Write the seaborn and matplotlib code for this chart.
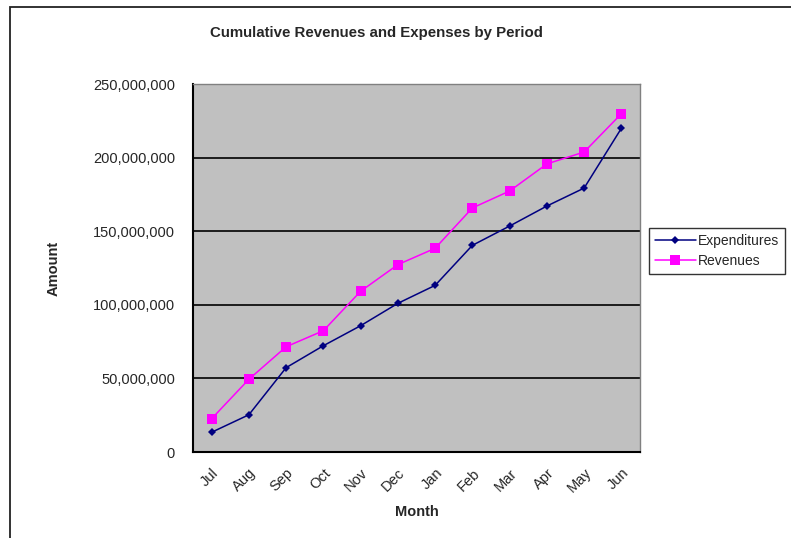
import numpy as np
import pandas as pd
import matplotlib
matplotlib.use("Agg")
import matplotlib.pyplot as plt
from matplotlib.ticker import FuncFormatter, MultipleLocator
import seaborn as sns

sns.set_style("white")
plt.rcParams["font.family"] = ["Liberation Sans", "DejaVu Sans"]

# data (millions)
months = ["Jul", "Aug", "Sep", "Oct", "Nov", "Dec", "Jan", "Feb", "Mar", "Apr", "May", "Jun"]
expenditures = [13.4, 25.3, 57.3, 72.2, 85.8, 101.0, 113.2, 140.4, 153.5, 167.1, 179.3, 219.9]
revenues = [22.6, 49.4, 71.5, 82.4, 109.2, 127.3, 138.4, 165.8, 177.3, 195.7, 203.8, 229.8]
series = ["Expenditures", "Revenues"]
colors = {"Expenditures": "#000080", "Revenues": "#ff00ff"}
markers = {"Expenditures": "D", "Revenues": "s"}
msizes = {"Expenditures": 4, "Revenues": 6.5}

df = pd.DataFrame({
    "pos": list(range(len(months))) * 2,
    "Amount": np.array(expenditures + revenues) * 1e6,
    "Series": ["Expenditures"] * len(months) + ["Revenues"] * len(months),
})

fig = plt.figure(figsize=(7.91, 5.38), dpi=100)
ax = fig.add_axes([193 / 791, 1 - 452 / 538, (640 - 193) / 791, (452 - 84) / 538])
ax.set_facecolor("#c0c0c0")

# outer chart frame (runs off right and bottom edges)
fig.patches.append(plt.Rectangle((10 / 791, -0.05), 1.1, 1 - 7 / 538 + 0.05,
                                 transform=fig.transFigure, fill=False,
                                 edgecolor="#222222", linewidth=1.3))

for v in [50e6, 100e6, 150e6, 200e6]:
    ax.axhline(v, color="black", linewidth=1.2, zorder=1)

n0 = len(ax.lines)
sns.lineplot(data=df, x="pos", y="Amount", hue="Series", style="Series",
             hue_order=series, style_order=series,
             palette=colors, markers=markers, dashes=False,
             linewidth=1.1, markeredgewidth=0, ax=ax, legend=False)
lines = ax.lines[n0:]
for ln, name in zip(lines, series):
    ln.set_markersize(msizes[name])
    ln.set_label(name)
    ln.set_zorder(4 if name == "Expenditures" else 3)

ax.set_xlim(-0.5, 11.5)
ax.set_ylim(0, 250e6)
ax.yaxis.set_major_locator(MultipleLocator(50e6))
ax.yaxis.set_major_formatter(FuncFormatter(lambda v, p: f"{v:,.0f}"))

ax.set_xticks(range(12))
ax.set_xticklabels(months, rotation=45, ha="right", rotation_mode="anchor", fontsize=10.5)
ax.set_xticks(np.arange(-0.5, 12, 1), minor=True)
ax.tick_params(axis="x", which="major", length=0, pad=10)
ax.tick_params(axis="x", which="minor", length=5, width=1.2, color="black", direction="out")
ax.tick_params(axis="y", length=5, width=1.2, color="black", direction="out", labelsize=10.5, pad=8)

for s in ["top", "right"]:
    ax.spines[s].set_color("#808080")
    ax.spines[s].set_linewidth(1.0)
for s in ["left", "bottom"]:
    ax.spines[s].set_color("black")
    ax.spines[s].set_linewidth(1.5)

ax.set_xlabel("Month", fontsize=10.5, fontweight="bold", labelpad=7)
ax.set_ylabel("Amount", fontsize=10.5, fontweight="bold", labelpad=23)
fig.text(376 / 791, 1 - 33 / 538, "Cumulative Revenues and Expenses by Period",
         ha="center", va="center", fontsize=10.8, fontweight="bold")

leg = ax.legend(handles=lines, loc="center left", bbox_to_anchor=(649 / 791, 1 - 251 / 538),
                bbox_transform=fig.transFigure, fontsize=10, frameon=True,
                fancybox=False, edgecolor="black", borderpad=0.4,
                handlelength=3.0, handletextpad=0.15, labelspacing=0.45,
                borderaxespad=0)
leg.get_frame().set_linewidth(1.0)

fig.savefig("out.png", dpi=100)
